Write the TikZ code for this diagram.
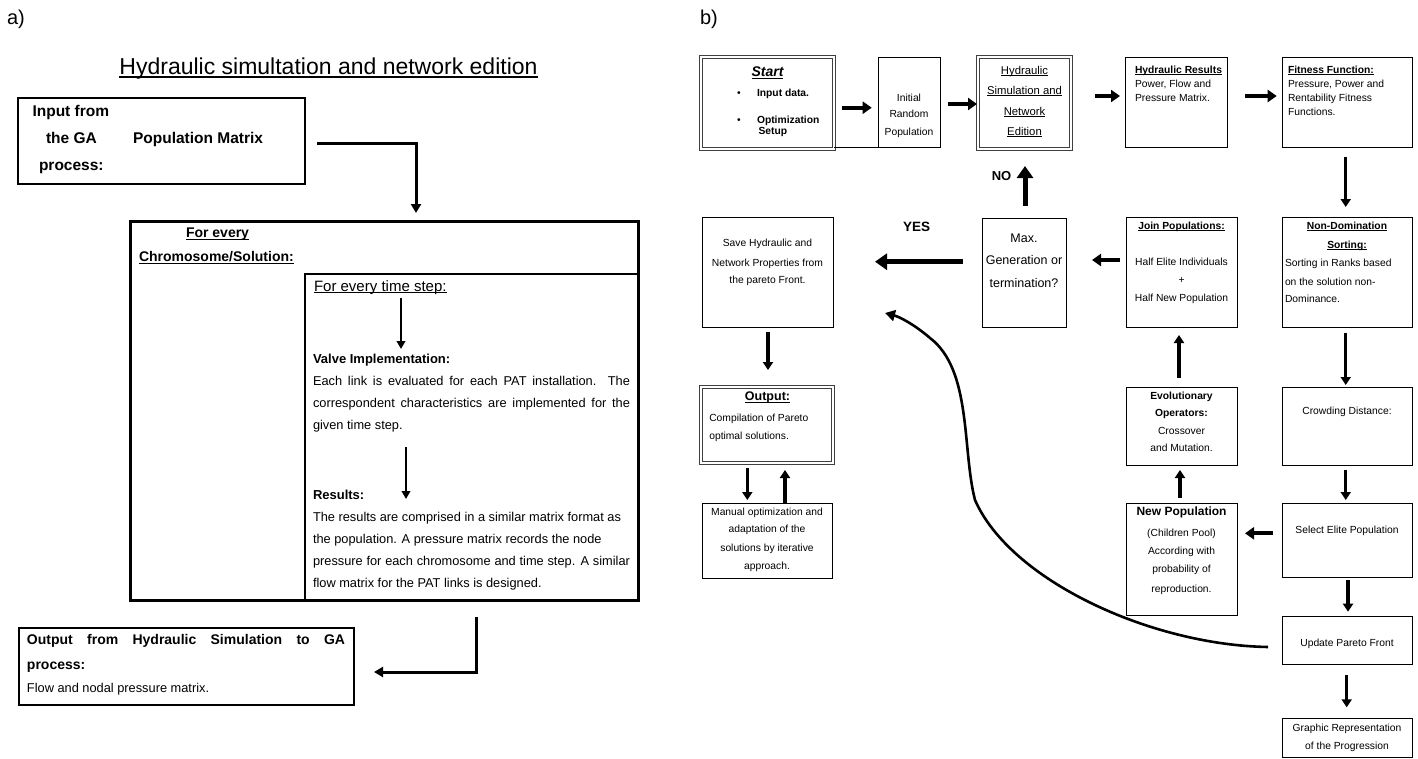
\documentclass[tikz,border=0pt]{standalone}
\usepackage{fontspec}
\setmainfont{Liberation Sans}
\usetikzlibrary{arrows.meta}
\newsavebox\ulbox
\newcommand\myul[1]{\sbox\ulbox{#1}\rlap{\rule[-0.14em]{\wd\ulbox}{0.07em}}\usebox\ulbox}
\newcommand\fs[1]{\fontsize{#1}{#1}\selectfont}
\begin{document}
\begin{tikzpicture}[x=1pt,y=-1pt,
  lbox/.style={draw, line width=2pt, inner sep=0pt, outer sep=0pt},
  rbox/.style={draw, line width=1pt, inner sep=0pt, outer sep=0pt},
  dbox/.style={draw=black!75, line width=0.8pt, double, double distance=2pt, inner sep=0pt, outer sep=0pt},
  txt/.style={inner sep=0pt, outer sep=0pt, anchor=base},
  txtl/.style={txt, anchor=base west},
  rt/.style={txt, font=\fs{10.3}},
  rtl/.style={txtl, font=\fs{10.3}},
  rtb/.style={txt, font=\fs{10.3}\bfseries},
  rtbl/.style={txtl, font=\fs{10.3}\bfseries},
  arrT/.style={line width=2.2pt, -{Triangle[length=8pt,width=8.5pt]}},
  arrL/.style={line width=3pt, -{Triangle[length=9pt,width=10pt]}},
  arrA/.style={line width=3.3pt, -{Triangle[length=8pt,width=10pt]}},
  arrB/.style={line width=4pt, -{Triangle[length=9pt,width=12pt]}},
  arrC/.style={line width=5pt, -{Triangle[length=12pt,width=16pt]}}]
\fill[white] (0,0) rectangle (1418,758);
\useasboundingbox (0,0) rectangle (1418,758);

% ---------------- panel a ----------------
\node[txtl, font=\fs{20}] (la) at (7,24) {a)};
\node[txt, font=\fs{23}] (title) at (328.5,74.6) {\myul{Hydraulic simultation and network edition}};

\node[lbox, minimum width=287pt, minimum height=86pt] (in) at (161.5,141) {};
\node[txtl, font=\fs{15.5}\bfseries] (inA) at (32.5,116) {Input from};
\node[txtl, font=\fs{15.5}\bfseries] (inB) at (46,143) {the GA};
\node[txtl, font=\fs{15.5}\bfseries] (inC) at (133,143) {Population Matrix};
\node[txtl, font=\fs{15.5}\bfseries] (inD) at (39,170) {process:};

\node[draw, line width=2pt, inner sep=0pt, outer sep=0pt, minimum width=333pt, minimum height=326pt] (inner) at (471.5,437) {};
\node[draw, line width=3pt, inner sep=0pt, outer sep=0pt, minimum width=508pt, minimum height=379pt] (big) at (384,410.5) {};

\node[txtl, font=\fs{14}\bfseries] (fe) at (186,237.6) {\myul{For every}};
\node[txtl, font=\fs{14}\bfseries] (cs) at (139,261.6) {\myul{Chromosome/Solution:}};
\node[txtl, font=\fs{15}] (ts) at (314,291) {\myul{For every time step:}};
\node[txtl, font=\fs{13}\bfseries] (vi) at (313,363.3) {Valve Implementation:};
\node[txtl, font=\fs{12.8}] (v1) at (313,385.2) {\makebox[317pt][s]{Each link is evaluated for each PAT installation. The}};
\node[txtl, font=\fs{12.8}] (v2) at (313,407.2) {\makebox[317pt][s]{correspondent characteristics are implemented for the}};
\node[txtl, font=\fs{12.8}] (v3) at (313,429.2) {given time step.};
\node[txtl, font=\fs{13}\bfseries] (rs) at (313,499.3) {Results:};
\node[txtl, font=\fs{12.8}] (r1) at (313,521.2) {The results are comprised in a similar matrix format as};
\node[txtl, font=\fs{12.8}] (r2) at (313,543.2) {the population. A pressure matrix records the node};
\node[txtl, font=\fs{12.8}] (r3) at (313,565.2) {\makebox[317pt][s]{pressure for each chromosome and time step. A similar}};
\node[txtl, font=\fs{12.8}] (r4) at (313,587.2) {flow matrix for the PAT links is designed.};

\coordinate (ia1) at (401,298);
\coordinate (ia2) at (401,349);
\draw[arrT] (ia1) -- (ia2);
\coordinate (ib1) at (406,447);
\coordinate (ib2) at (406,499);
\draw[arrT] (ib1) -- (ib2);

\node[lbox, minimum width=335pt, minimum height=77pt] (outb) at (186.5,666.5) {};
\node[txtl, font=\fs{14}\bfseries] (o1) at (27,644.6) {\makebox[318pt][s]{Output from Hydraulic Simulation to GA}};
\node[txtl, font=\fs{14}\bfseries] (o2) at (27,669.6) {process:};
\node[txtl, font=\fs{12.8}] (o3) at (27,692.2) {Flow and nodal pressure matrix.};

\coordinate (bt) at (416,213);
\draw[arrL] ([xshift=12pt,yshift=-2pt]in.east) -| (bt);
\coordinate (oa) at (476,617);
\draw[arrL] (oa) |- ([xshift=20pt,yshift=-5.5pt]outb.east);

% ---------------- panel b ----------------
\node[txtl, font=\fs{20}] (lb) at (700,24) {b)};

\node[dbox, minimum width=133pt, minimum height=92pt] (start) at (767.5,103) {};
\node[txt, font=\fs{14}\bfseries\itshape] (stT) at (767.5,76.6) {\myul{Start}};
\node[rt] (bu1) at (739,96) {\textbullet};
\node[rtbl] (st1) at (757,96) {Input data.};
\node[rt] (bu2) at (739,123.4) {\textbullet};
\node[rtbl] (st2) at (757,123.4) {Optimization};
\node[rtbl] (st3) at (758.5,134.4) {Setup};

\node[rbox, minimum width=62pt, minimum height=90pt] (initial) at (909,102) {};
\node[rt] (in1) at (909,101.1) {Initial};
\node[rt] (in2) at (909,117.4) {Random};
\node[rt] (in3) at (909,135.1) {Population};
\draw[line width=1pt] ([yshift=2pt]start.south east) -- (initial.south west);

\node[dbox, minimum width=93pt, minimum height=92pt] (hsim) at (1024.5,103) {};
\node[txt, font=\fs{11.3}] (hs1) at (1024.5,74.4) {\myul{Hydraulic}};
\node[txt, font=\fs{11.3}] (hs2) at (1024.5,94.4) {\myul{Simulation and}};
\node[txt, font=\fs{11.3}] (hs3) at (1024.5,115.4) {\myul{Network}};
\node[txt, font=\fs{11.3}] (hs4) at (1024.5,135.4) {\myul{Edition}};

\node[rbox, minimum width=102pt, minimum height=90pt] (hres) at (1176,102) {};
\node[rtbl] (hr1) at (1135,73.4) {\myul{Hydraulic Results}};
\node[rtl] (hr2) at (1135,87.7) {Power, Flow and};
\node[rtl] (hr3) at (1135,101.7) {Pressure Matrix.};

\node[rbox, minimum width=130pt, minimum height=90pt] (fit) at (1347,102) {};
\node[rtbl] (fi1) at (1288,73.4) {\myul{Fitness Function:}};
\node[rtl] (fi2) at (1288,87.7) {Pressure, Power and};
\node[rtl] (fi3) at (1288,101.7) {Rentability Fitness};
\node[rtl] (fi4) at (1288,115.7) {Functions.};

\node[rbox, minimum width=131pt, minimum height=110pt] (save) at (767.5,272) {};
\node[rt] (sa1) at (767.5,246.7) {Save Hydraulic and};
\node[rt] (sa2) at (767.5,266.7) {Network Properties from};
\node[rt] (sa3) at (767.5,283.4) {the pareto Front.};

\node[txt, font=\fs{13.5}\bfseries] (yes) at (916.5,231.5) {YES};
\node[txt, font=\fs{13}\bfseries] (no) at (1001.5,180.3) {NO};

\node[rbox, minimum width=84pt, minimum height=109pt] (max) at (1024,272.5) {};
\node[txt, font=\fs{12.5}] (mx1) at (1024,242) {Max.};
\node[txt, font=\fs{12.5}] (mx2) at (1024,264) {Generation or};
\node[txt, font=\fs{12.5}] (mx3) at (1024,287) {termination?};

\node[rbox, minimum width=111pt, minimum height=110pt] (join) at (1181.5,272) {};
\node[rtb] (jo1) at (1181.5,229.4) {\myul{Join Populations:}};
\node[rt] (jo2) at (1181.5,265.4) {Half Elite Individuals};
\node[rt] (jo3) at (1181.5,283.4) {+};
\node[rt] (jo4) at (1181.5,301.1) {Half New Population};

\node[rbox, minimum width=130pt, minimum height=110pt] (nondom) at (1347,272) {};
\node[rtb] (nd1) at (1347,229.4) {\myul{Non-Domination}};
\node[rtb] (nd2) at (1347,248.4) {\myul{Sorting:}};
\node[rtl] (nd3) at (1285,266.1) {Sorting in Ranks based};
\node[rtl] (nd4) at (1285,285.1) {on the solution non-};
\node[rtl] (nd5) at (1285,302.4) {Dominance.};

\node[dbox, minimum width=132pt, minimum height=76pt] (output) at (767,425) {};
\node[txt, font=\fs{12.5}\bfseries] (ou1) at (767.5,400.8) {\myul{Output:}};
\node[rtl] (ou2) at (709.3,421.7) {Compilation of Pareto};
\node[rtl] (ou3) at (709.3,439.4) {optimal solutions.};

\node[rbox, minimum width=111pt, minimum height=78pt] (evol) at (1181.5,426) {};
\node[rtb] (ev1) at (1181.5,399.1) {Evolutionary};
\node[rtb] (ev2) at (1181.5,416.4) {Operators:};
\node[rt] (ev3) at (1181.5,434.1) {Crossover};
\node[rt] (ev4) at (1181.5,451.4) {and Mutation.};

\node[rbox, minimum width=130pt, minimum height=78pt] (crowd) at (1347,426) {};
\node[rt] (cr1) at (1347,414.4) {Crowding Distance:};

\node[rbox, minimum width=130pt, minimum height=75pt] (manual) at (767,540.5) {};
\node[rt] (ma1) at (767,515.1) {Manual optimization and};
\node[rt] (ma2) at (767,532.7) {adaptation of the};
\node[rt] (ma3) at (767,551.1) {solutions by iterative};
\node[rt] (ma4) at (767,569.1) {approach.};

\node[rbox, minimum width=111pt, minimum height=112pt] (newpop) at (1181.5,559) {};
\node[txt, font=\fs{12}\bfseries] (np1) at (1181.5,515.7) {New Population};
\node[rt] (np2) at (1181.5,536.7) {(Children Pool)};
\node[rt] (np3) at (1181.5,554.4) {According with};
\node[rt] (np4) at (1181.5,572.7) {probability of};
\node[rt] (np5) at (1181.5,592.4) {reproduction.};

\node[rbox, minimum width=130pt, minimum height=74pt] (select) at (1347,540) {};
\node[rt] (se1) at (1347,533.4) {Select Elite Population};

\node[rbox, minimum width=130pt, minimum height=48pt] (update) at (1347,640) {};
\node[rt] (up1) at (1347,646.1) {Update Pareto Front};

\node[rbox, minimum width=130pt, minimum height=39pt] (graphic) at (1347,737.5) {};
\node[rt] (gr1) at (1347,731.1) {Graphic Representation};
\node[rt] (gr2) at (1347,749.4) {of the Progression};

% arrows panel b
\draw[arrB, shorten >=6.3pt] ([xshift=7.7pt,yshift=-4.7pt]start.east) coordinate (c1) -- (c1 -| initial.west);
\draw[arrB, shorten >=1pt] ([xshift=8pt,yshift=-2pt]initial.east) coordinate (c2) -- (c2 -| hsim.west);
\draw[arrB, shorten >=5pt] ([xshift=24pt,yshift=7pt]hsim.east) coordinate (c3) -- (c3 -| hres.west);
\draw[arrB, shorten >=5.3pt] ([xshift=18pt,yshift=6pt]hres.east) coordinate (c4) -- (c4 -| fit.west);
\draw[arrA, shorten >=10pt] ([xshift=-1.3pt,yshift=-10pt]fit.south) coordinate (c5) -- (c5 |- nondom.north);
\draw[arrC, shorten >=17pt] ([xshift=1pt,yshift=12pt]max.north) coordinate (c6) -- (c6 |- hsim.south);
\draw[arrC, shorten >=42pt] ([xshift=-19pt,yshift=10.8pt]max.west) coordinate (c7) -- (c7 -| save.east);
\draw[arrB, shorten >=26pt] ([xshift=-6pt,yshift=12pt]join.west) coordinate (c8) -- (c8 -| max.east);
\draw[arrA, shorten >=8pt] ([xshift=-2.5pt,yshift=9pt]evol.north) coordinate (c9) -- (c9 |- join.south);
\draw[arrA, shorten >=2pt] ([xshift=-1.3pt,yshift=-6pt]nondom.south) coordinate (c10) -- (c10 |- crowd.north);
\draw[arrA, shorten >=17pt] ([xshift=0.5pt,yshift=-5pt]save.south) coordinate (c11) -- (c11 |- output.north);
\draw[arrA, shorten >=3pt] ([xshift=-19.7pt,yshift=-5pt]output.south) coordinate (c12) -- (c12 |- manual.north);
\draw[arrA, shorten >=7pt] ([xshift=18pt]manual.north) coordinate (c13) -- (c13 |- output.south);
\draw[arrA, shorten >=3pt] ([xshift=-1.3pt,yshift=-5pt]crowd.south) coordinate (c14) -- (c14 |- select.north);
\draw[arrB, shorten >=8pt] ([xshift=-9pt,yshift=6.7pt]select.west) coordinate (c15) -- (c15 -| newpop.east);
\draw[arrA, shorten >=5pt] ([xshift=-1.5pt,yshift=5pt]newpop.north) coordinate (c16) -- (c16 |- evol.south);
\draw[arrA, shorten >=4.3pt] ([xshift=1pt,yshift=-3pt]select.south) coordinate (c17) -- (c17 |- update.north);
\draw[arrA, shorten >=10.7pt] ([xshift=-0.3pt,yshift=-11pt]update.south) coordinate (c18) -- (c18 |- graphic.north);
\draw[line width=2.6pt, -{Triangle[length=10pt,width=11pt]}] ([xshift=-14pt,yshift=-7pt]update.west)
  .. controls (1150,645) and (1010,580) .. (975,500)
  .. controls (962,450) and (972,370) .. (930,338)
  .. controls (915,325) and (900,317) .. ([xshift=52pt,yshift=14pt]save.south east);
\end{tikzpicture}
\end{document}
